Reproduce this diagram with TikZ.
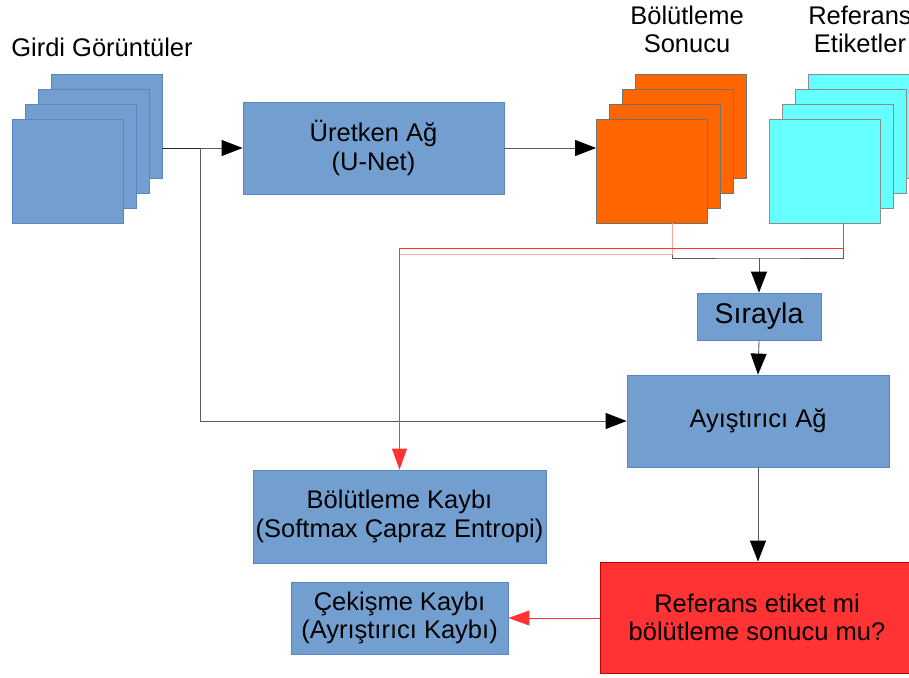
\documentclass[tikz,border=0pt]{standalone}
\usepackage{fontspec}
\setmainfont{Liberation Sans}
\usetikzlibrary{arrows.meta,calc}

\definecolor{boxblue}{HTML}{729FCF}
\definecolor{boxedge}{HTML}{5B86C0}
\definecolor{segorange}{HTML}{FF6600}
\definecolor{refcyan}{HTML}{66FFFF}
\definecolor{askred}{HTML}{FF3333}

\begin{document}
\begin{tikzpicture}[x=1pt,y=-1pt,
  box/.style={draw=boxedge,fill=boxblue,line width=0.8pt,align=center,inner sep=0pt,
    font=\fontsize{25.5}{28.5}\selectfont},
  layer/.style={draw=boxedge,fill=boxblue,line width=0.8pt,inner sep=0pt,
    minimum width=111pt,minimum height=104pt},
  label/.style={align=center,inner sep=0pt,font=\fontsize{25.5}{28}\selectfont},
  wire/.style={draw=black!65,line width=0.9pt},
  arr/.style={wire,-{Triangle[length=21pt,width=16pt,color=black]}},
  redwire/.style={draw=askred,line width=0.8pt},
  redarr/.style={redwire,-{Triangle[length=21pt,width=15pt]}}]

\useasboundingbox (0,0) rectangle (909,677);

% stacks of pictures
\foreach \i in {4,3,2,1} {
  \node [layer] (in\i) at ({67.5+13*(\i-1)},{171-15*(\i-1)}) {};
}
\foreach \i in {4,3,2,1} {
  \node [layer,fill=segorange,draw=black!55] (seg\i) at ({652+13*(\i-1)},{171-15*(\i-1)}) {};
}
\foreach \i in {4,3,2,1} {
  \node [layer,fill=refcyan,draw=black!45] (ref\i) at ({824.5+13*(\i-1)},{171-15*(\i-1)}) {};
}

\node [label] (inlabel)  at (102,47)  {Girdi Görüntüler};
\node [label] (seglabel) at (687,29)  {Bölütleme\\Sonucu};
\node [label] (reflabel) at (860,29)  {Referans\\Etiketler};

% boxes
\node [box,minimum width=261pt,minimum height=92pt] (gen) at (373.5,148) {Üretken Ağ\\(U-Net)};
\node [box,minimum width=124pt,minimum height=47pt,font=\fontsize{28.5}{32}\selectfont] (sira) at (759,316.5) {Sırayla};
\node [box,minimum width=262pt,minimum height=92pt] (disc) at (758,421) {Ayıştırıcı Ağ};
\node [box,minimum width=293pt,minimum height=93pt] (segloss) at (399.5,516.5) {Bölütleme Kaybı\\(Softmax Çapraz Entropi)};
\node [box,minimum width=217pt,minimum height=72pt] (advloss) at (399.5,618) {Çekişme Kaybı\\(Ayrıştırıcı Kaybı)};
\node [box,fill=askred,draw=red!75!black,minimum width=314pt,minimum height=111pt] (ask) at (757,617.5) {Referans etiket mi\\bölütleme sonucu mu?};

% connectors
\coordinate (split) at (200,148);
\coordinate (segout) at ([xshift=20pt]seg1.south);
\coordinate (refout) at ([xshift=19pt]ref1.south);
\coordinate (join) at (759,258);
\coordinate (redA) at (segloss.north |- 0,248);
\coordinate (redB) at (segloss.north |- 0,254);

\draw [wire,draw=black!85] (in4.east |- gen.west) -- (split);
\draw [arr] (split) -- (gen.west);
\draw [arr] (split) |- (disc.west);
\draw [arr] (gen.east) -- (gen.east -| seg1.west);

\draw [wire] (segout) |- (join) -| (refout);
\draw [arr] (join) -- (sira.north);
\draw [arr] (sira.south) -- (disc.north);
\draw [arr] (disc.south) -- (disc.south |- ask.north);

\draw [redwire,draw=askred!45] (segout) |- (redB) -- (redA);
\draw [redarr] (refout) |- (redA) -- (segloss.north);
\draw [redarr] (ask.west |- advloss.east) -- (advloss.east);

\end{tikzpicture}
\end{document}
